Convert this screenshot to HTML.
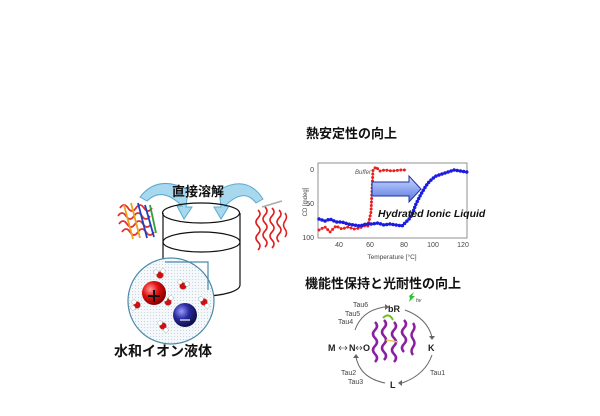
<!DOCTYPE html>
<html><head><meta charset="utf-8"><style>
html,body{margin:0;padding:0;background:#fff;width:600px;height:416px;overflow:hidden}
svg{display:block}
text{font-family:"Liberation Sans","Noto Sans CJK JP",sans-serif}
.jp{font-weight:bold;fill:#111}
</style></head><body>
<svg width="600" height="416" viewBox="0 0 600 416" xmlns="http://www.w3.org/2000/svg">
<defs>
<radialGradient id="rg" cx="35%" cy="35%" r="65%"><stop offset="0" stop-color="#ff9a9a"/><stop offset="0.5" stop-color="#e01010"/><stop offset="1" stop-color="#8a0000"/></radialGradient>
<radialGradient id="bg" cx="35%" cy="35%" r="65%"><stop offset="0" stop-color="#9a9aff"/><stop offset="0.5" stop-color="#2a2aa0"/><stop offset="1" stop-color="#10104a"/></radialGradient>
<pattern id="dots" width="3" height="3" patternUnits="userSpaceOnUse"><rect width="3" height="3" fill="#f4f8fb"/><rect width="1" height="1" fill="#c8d6e0"/></pattern>
<linearGradient id="ag" x1="0" y1="0" x2="0" y2="1"><stop offset="0" stop-color="#c8d8ff"/><stop offset="1" stop-color="#5a78e0"/></linearGradient>
</defs>

<!-- curved arrows -->
<path d="M140,197 Q158,174 188,190 L186,207 L192,207 L184,219 L177,206 L182,206 Q162,186 147,201 Z" fill="#a8d8ee" stroke="#5aaad0" stroke-width="1"/>
<path d="M263,199 Q247,174 219,190 L221,207 L214,207 L221,219 L229,206 L225,206 Q244,187 256,203 Z" fill="#a8d8ee" stroke="#5aaad0" stroke-width="1"/>
<text x="172" y="196" class="jp" font-size="13">直接溶解</text>

<!-- cylinder -->
<path d="M163,213 L163,285 A38,11 0 0 0 240,285 L240,213" fill="none" stroke="#111" stroke-width="1.2"/>
<ellipse cx="201" cy="213" rx="38.5" ry="10" fill="none" stroke="#111" stroke-width="1.2"/>
<path d="M163,242 A38.5,10 0 0 0 240,242" fill="none" stroke="#111" stroke-width="1.2"/>
<path d="M163,242 A38.5,10 0 0 1 240,242" fill="none" stroke="#111" stroke-width="1.2"/>

<!-- proteins -->
<g fill="none" stroke-width="1.8">
<path d="M120,208 q4,-6 8,0 t8,0 t8,0 t8,0 M118,216 q4,-6 8,0 t8,0 t8,0 t8,0 M119,224 q4,-6 8,0 t8,0 t8,0 t8,0 M122,232 q4,-6 8,0 t8,0 t8,0 t8,0" stroke="#e03030"/>
<path d="M124,205 l9,34 M131,203 l9,35" stroke="#f0a020"/>
<path d="M138,203 l9,35 M145,205 l9,32" stroke="#2040c0"/>
<path d="M150,205 l6,28" stroke="#30a040"/>
</g>
<g fill="none" stroke="#e02020" stroke-width="1.6">
<path d="M258,210 q4,4 0,8 t0,8 t0,8 t0,8 t0,8 M265,207 q4,4 0,8 t0,8 t0,8 t0,8 t0,8 M272,208 q4,4 0,8 t0,8 t0,8 t0,8 t0,8 M279,210 q4,4 0,8 t0,8 t0,8 t0,8 M285,213 q3,4 0,8 t0,8 t0,8"/>
<path d="M262,207 l20,-6" stroke="#aaa"/>
</g>

<!-- circle inset -->
<circle cx="171" cy="301" r="43" fill="url(#dots)" stroke="#4a8aa8" stroke-width="1.2"/>
<path d="M165,262 L208,262 L208,290" fill="none" stroke="#4a8aa8" stroke-width="1.2"/>
<g stroke="#999" stroke-width="0.4">
<circle cx="160" cy="275" r="3.5" fill="#d01010"/><circle cx="156" cy="272" r="2.3" fill="#fff"/><circle cx="163" cy="271" r="2.3" fill="#fff"/>
<circle cx="183" cy="286" r="3.5" fill="#d01010"/><circle cx="180" cy="282" r="2.3" fill="#fff"/><circle cx="187" cy="284" r="2.3" fill="#fff"/>
<circle cx="137" cy="305" r="3.5" fill="#d01010"/><circle cx="134" cy="302" r="2.3" fill="#fff"/><circle cx="133" cy="308" r="2.3" fill="#fff"/>
<circle cx="168" cy="302" r="3.5" fill="#d01010"/><circle cx="165" cy="299" r="2.3" fill="#fff"/><circle cx="171" cy="298" r="2.3" fill="#fff"/>
<circle cx="204" cy="302" r="3.5" fill="#d01010"/><circle cx="201" cy="299" r="2.3" fill="#fff"/><circle cx="207" cy="306" r="2.3" fill="#fff"/>
<circle cx="163" cy="326" r="3.5" fill="#d01010"/><circle cx="160" cy="323" r="2.3" fill="#fff"/><circle cx="166" cy="330" r="2.3" fill="#fff"/>
</g>
<circle cx="154" cy="293" r="12" fill="url(#rg)"/>
<path d="M148,296 h12 M154,290 v12" stroke="#111" stroke-width="2"/>
<circle cx="185" cy="315" r="12" fill="url(#bg)"/>
<path d="M180,320 h10" stroke="#ccd" stroke-width="1.5"/>
<text x="114" y="356" class="jp" font-size="14">水和イオン液体</text>

<!-- chart -->
<text x="306" y="138" class="jp" font-size="13">熱安定性の向上</text>
<rect x="318" y="163" width="149" height="75" fill="none" stroke="#777" stroke-width="0.8"/>
<g font-size="7" fill="#444" text-anchor="end">
<text x="314" y="172">0</text><text x="314" y="206">-50</text><text x="314" y="240">100</text>
</g>
<g font-size="7" fill="#444" text-anchor="middle">
<text x="339" y="247">40</text><text x="370" y="247">60</text><text x="404" y="247">80</text><text x="433" y="247">100</text><text x="463" y="247">120</text>
</g>
<text x="392" y="259" font-size="6.5" fill="#444" text-anchor="middle">Temperature [°C]</text>
<text x="307" y="202" font-size="6" fill="#444" text-anchor="middle" transform="rotate(-90 307 202)">CD [mdeg]</text>
<g fill="none" stroke-linecap="round">
<polyline points="319,230 325,227 330,232 336,226 342,229 348,227 354,229 360,228 364,226 368,226 371,212 373,170 376,167 380,171 385,170 392,171 400,170 406,170" stroke="#e82020" stroke-width="0.8"/>
<polyline points="319,230 325,227 330,232 336,226 342,229 348,227 354,229 360,228 364,226 368,226 371,212 373,170 376,167 380,171 385,170 392,171 400,170 406,170" stroke="#e82020" stroke-width="3" stroke-dasharray="0 3.5"/>
<polyline points="319,219 325,221 330,219 336,222 342,222 348,224 354,225 360,226 366,224 372,224 378,223 384,225 390,224 396,225 402,226 406,222 410,218 413,212 416,204 420,196 424,189 428,183 432,179 436,176 442,174 448,172 454,170 460,171 467,172" stroke="#1a1ae0" stroke-width="0.8"/>
<polyline points="319,219 325,221 330,219 336,222 342,222 348,224 354,225 360,226 366,224 372,224 378,223 384,225 390,224 396,225 402,226 406,222 410,218 413,212 416,204 420,196 424,189 428,183 432,179 436,176 442,174 448,172 454,170 460,171 467,172" stroke="#1a1ae0" stroke-width="3.5" stroke-dasharray="0 3.2"/>
</g>
<text x="355" y="174" font-size="6" font-style="italic" fill="#555">Buffer</text>
<path d="M372,182 L409,182 L409,176 L421,189 L409,202 L409,196 L372,196 Z" fill="url(#ag)" stroke="#2030a0" stroke-width="1"/>
<text x="378" y="217" font-size="10.5" font-weight="bold" font-style="italic" fill="#111">Hydrated Ionic Liquid</text>

<!-- cycle -->
<text x="305" y="288" class="jp" font-size="13">機能性保持と光耐性の向上</text>
<g fill="none" stroke="#666" stroke-width="1">
<path d="M355,330 Q362,310 385,307"/>
<path d="M405,310 Q427,318 432,337"/>
<path d="M432,355 Q425,375 402,383"/>
<path d="M385,383 Q360,378 356,357"/>
</g>
<g fill="#666">
<path d="M385,304 l4,3 l-4,3 z"/><path d="M429,336 l3,4 l3,-4 z"/><path d="M402,380 l-4,3 l4,3 z"/><path d="M353,358 l3,-4 l3,4 z"/>
</g>
<g font-size="9" font-weight="bold" fill="#222">
<text x="388" y="312">bR</text><text x="428" y="351">K</text><text x="390" y="388">L</text><text x="328" y="351">M</text><text x="349" y="351">N</text><text x="363" y="351">O</text>
</g>
<g stroke="#333" stroke-width="0.6" fill="none"><path d="M339,348 h8 M341,346 l-2,2 l2,2 M345,346 l2,2 l-2,2 M356,348 h6 M358,346 l-2,2 l2,2 M360,346 l2,2 l-2,2"/></g>
<g font-size="7" fill="#444">
<text x="353" y="307">Tau6</text><text x="345" y="316">Tau5</text><text x="338" y="324">Tau4</text>
<text x="341" y="375">Tau2</text><text x="348" y="384">Tau3</text><text x="430" y="375">Tau1</text>
</g>
<path d="M409,296 l5,-4 l-2,4 l3,0 l-6,6 l1,-4 z" fill="#30c030"/>
<text x="416" y="302" font-size="5" font-style="italic" fill="#333">hν</text>
<g fill="none" stroke="#8a20a0" stroke-width="2.5">
<path d="M375,322 q4,4 0,8 t0,8 t0,8 t0,8 t0,8 M384,320 q4,4 0,8 t0,8 t0,8 t0,8 t0,8 M394,322 q4,4 0,8 t0,8 t0,8 t0,8 t0,8 M404,320 q4,4 0,8 t0,8 t0,8 t0,8 M413,323 q3,4 0,8 t0,8 t0,8 t0,8"/>
</g>
<path d="M383,318 q6,-6 10,2" stroke="#70c020" stroke-width="2" fill="none"/>
<path d="M386,340 l12,2" stroke="#e0d040" stroke-width="1.5"/>
</svg>
</body></html>
